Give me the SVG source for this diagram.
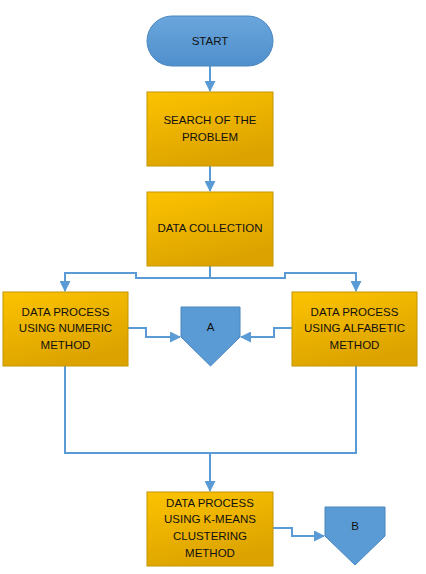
<svg xmlns="http://www.w3.org/2000/svg" width="426" height="574" viewBox="0 0 426 574">
<defs>
<linearGradient id="gold" x1="0" y1="0" x2="0.4" y2="1">
<stop offset="0" stop-color="#fcc300"/>
<stop offset="1" stop-color="#dca300"/>
</linearGradient>
<linearGradient id="blue" x1="0" y1="0" x2="0" y2="1">
<stop offset="0" stop-color="#6aa6dc"/>
<stop offset="1" stop-color="#4f8fcc"/>
</linearGradient>
<marker id="ah" markerWidth="11" markerHeight="11" refX="10" refY="5.5" orient="auto" markerUnits="userSpaceOnUse">
<path d="M0,0 L11,5.5 L0,11 Z" fill="#5b9bd5"/>
</marker>
<style>
.box{fill:url(#gold);stroke:#c49400;stroke-width:1}
.conn{fill:#5b9bd5;stroke:#4a86bf;stroke-width:1}
.t{font-family:"Liberation Sans",Arial,sans-serif;font-size:11.5px;fill:#111;text-anchor:middle}
.ln{fill:none;stroke:#5b9bd5;stroke-width:2}
</style>
</defs>
<g id="connectors">
<path class="ln" d="M210,66 V91" marker-end="url(#ah)"/>
<path class="ln" d="M210,166 V191" marker-end="url(#ah)"/>
<path class="ln" d="M210,266 V278 H136 V273 H65 V291" marker-end="url(#ah)"/>
<path class="ln" d="M210,278 H285 V273 H356 V291" marker-end="url(#ah)"/>
<path class="ln" d="M128,328 H146 V337 H180" marker-end="url(#ah)"/>
<path class="ln" d="M292,328 H274 V337 H241" marker-end="url(#ah)"/>
<path class="ln" d="M65,366 V453 H356 V366"/>
<path class="ln" d="M210,453 V491" marker-end="url(#ah)"/>
<path class="ln" d="M273,528 H292 V536 H324" marker-end="url(#ah)"/>
</g>
<g id="start">
<rect x="147" y="16" width="126" height="50" rx="25" fill="url(#blue)" stroke="#4a86bf"/>
<text class="t" x="210" y="45">START</text>
</g>
<g id="search">
<rect class="box" x="147" y="92" width="126" height="74"/>
<text class="t" x="210" y="124">SEARCH OF THE</text>
<text class="t" x="210" y="141">PROBLEM</text>
</g>
<g id="collection">
<rect class="box" x="147" y="192" width="126" height="74"/>
<text class="t" x="210" y="232">DATA COLLECTION</text>
</g>
<g id="numeric">
<rect class="box" x="3" y="292" width="125" height="74"/>
<text class="t" x="65.5" y="316">DATA PROCESS</text>
<text class="t" x="65.5" y="332">USING NUMERIC</text>
<text class="t" x="65.5" y="349">METHOD</text>
</g>
<g id="alfabetic">
<rect class="box" x="292" y="292" width="125" height="74"/>
<text class="t" x="354.5" y="316">DATA PROCESS</text>
<text class="t" x="354.5" y="332">USING ALFABETIC</text>
<text class="t" x="354.5" y="349">METHOD</text>
</g>
<g id="A">
<polygon class="conn" points="181,307 240,307 240,337 210.5,366 181,337"/>
<text class="t" x="210.5" y="331">A</text>
</g>
<g id="kmeans">
<rect class="box" x="147" y="492" width="126" height="74"/>
<text class="t" x="210" y="507">DATA PROCESS</text>
<text class="t" x="210" y="523">USING K-MEANS</text>
<text class="t" x="210" y="540">CLUSTERING</text>
<text class="t" x="210" y="557">METHOD</text>
</g>
<g id="B">
<polygon class="conn" points="325,507 385,507 385,536 355,565 325,536"/>
<text class="t" x="355" y="530">B</text>
</g>
</svg>
